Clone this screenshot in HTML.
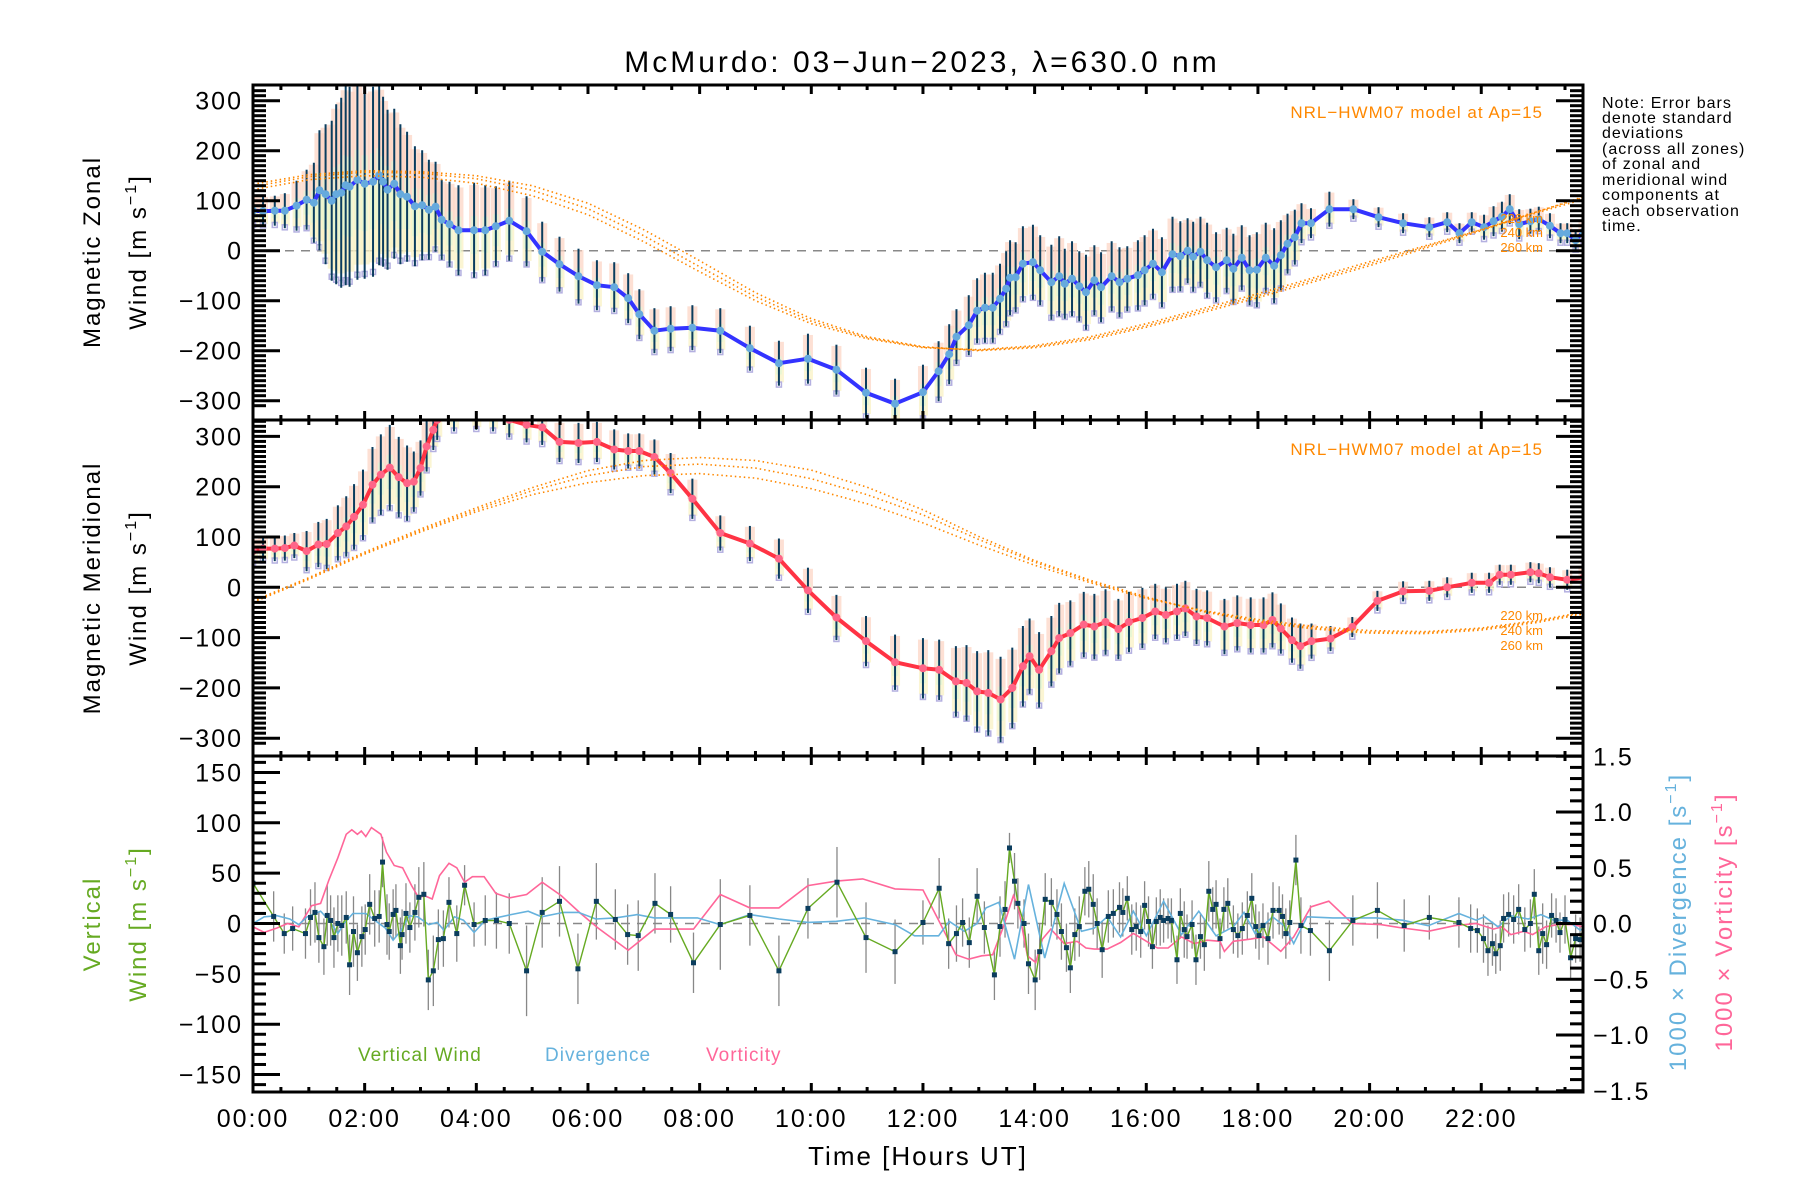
<!DOCTYPE html>
<html><head><meta charset="utf-8"><title>McMurdo winds</title>
<style>
html,body{margin:0;padding:0;background:#fff;}
svg{display:block;font-family:"Liberation Sans",sans-serif;}
.tk{font-size:25px;letter-spacing:2px;fill:#000;}
</style></head>
<body>
<svg id="chart" width="1800" height="1200" viewBox="0 0 1800 1200" xmlns="http://www.w3.org/2000/svg">
<defs>
<clipPath id="c1"><rect x="254" y="86" width="1328" height="333"/></clipPath>
<clipPath id="c2"><rect x="254" y="421" width="1328" height="334"/></clipPath>
<clipPath id="c3"><rect x="254" y="757" width="1328" height="334"/></clipPath>
</defs>
<rect x="0" y="0" width="1800" height="1200" fill="#fff"/>
<text x="922" y="72" text-anchor="middle" font-size="30" letter-spacing="3">McMurdo: 03−Jun−2023, λ=630.0 nm</text>
<g id="p1" clip-path="url(#c1)"></g>
<g id="p2" clip-path="url(#c2)"></g>
<g id="p3" clip-path="url(#c3)"></g>
<g id="axes"></g>

<text transform="translate(100,252) rotate(-90)" text-anchor="middle" font-size="24" letter-spacing="2">Magnetic Zonal</text>
<text transform="translate(146,252) rotate(-90)" text-anchor="middle" font-size="24" letter-spacing="2">Wind [m s<tspan font-size="16" dy="-10">−1</tspan><tspan dy="10">]</tspan></text>
<text transform="translate(100,588) rotate(-90)" text-anchor="middle" font-size="24" letter-spacing="2">Magnetic Meridional</text>
<text transform="translate(146,588) rotate(-90)" text-anchor="middle" font-size="24" letter-spacing="2">Wind [m s<tspan font-size="16" dy="-10">−1</tspan><tspan dy="10">]</tspan></text>
<text transform="translate(100,924) rotate(-90)" text-anchor="middle" font-size="24" letter-spacing="2" fill="#66aa22">Vertical</text>
<text transform="translate(146,924) rotate(-90)" text-anchor="middle" font-size="24" letter-spacing="2" fill="#66aa22">Wind [m s<tspan font-size="16" dy="-10">−1</tspan><tspan dy="10">]</tspan></text>
<text transform="translate(1686,922) rotate(-90)" text-anchor="middle" font-size="24" letter-spacing="2" fill="#66b2dd">1000 × Divergence [s<tspan font-size="16" dy="-10">−1</tspan><tspan dy="10">]</tspan></text>
<text transform="translate(1732,922) rotate(-90)" text-anchor="middle" font-size="24" letter-spacing="2" fill="#ff6699">1000 × Vorticity [s<tspan font-size="16" dy="-10">−1</tspan><tspan dy="10">]</tspan></text>
<text x="918" y="1165" text-anchor="middle" font-size="26" letter-spacing="2">Time [Hours UT]</text>

<g font-size="16" letter-spacing="1">
<text x="1602" y="108">Note: Error bars</text>
<text x="1602" y="123">denote standard</text>
<text x="1602" y="138">deviations</text>
<text x="1602" y="154">(across all zones)</text>
<text x="1602" y="169">of zonal and</text>
<text x="1602" y="185">meridional wind</text>
<text x="1602" y="200">components at</text>
<text x="1602" y="216">each observation</text>
<text x="1602" y="231">time.</text>
</g>
<text x="1543" y="118" text-anchor="end" font-size="17" fill="#ff8800" letter-spacing="1">NRL−HWM07 model at Ap=15</text>
<text x="1543" y="455" text-anchor="end" font-size="17" fill="#ff8800" letter-spacing="1">NRL−HWM07 model at Ap=15</text>
<g font-size="13" fill="#ff8800" text-anchor="end">
<text x="1543" y="223">220 km</text><text x="1543" y="237">240 km</text><text x="1543" y="252">260 km</text>
</g>
<g font-size="13" fill="#ff8800" text-anchor="end">
<text x="1543" y="620">220 km</text><text x="1543" y="635">240 km</text><text x="1543" y="650">260 km</text>
</g>
<text x="358" y="1061" font-size="19" fill="#66aa22" letter-spacing="1">Vertical Wind</text>
<text x="545" y="1061" font-size="19" fill="#66b2dd" letter-spacing="1">Divergence</text>
<text x="706" y="1061" font-size="19" fill="#ff6699" letter-spacing="1">Vorticity</text>
</svg>

<script>
// ---------- DATA ----------
var zonalT = [0,.18,.39,.57,.78,.96,1.09,1.19,1.3,1.41,1.49,1.58,1.66,1.73,1.87,2.0,2.15,2.26,2.33,2.41,2.53,2.64,2.76,2.9,3.03,3.15,3.27,3.38,3.52,3.68,3.96,4.16,4.35,4.59,4.9,5.18,5.49,5.83,6.16,6.47,6.72,6.92,7.19,7.48,7.87,8.37,8.9,9.42,9.94,10.45,10.98,11.5,12.0,12.28,12.47,12.6,12.82,12.97,13.11,13.25,13.38,13.49,13.56,13.66,13.79,13.97,14.1,14.3,14.44,14.54,14.67,14.8,14.92,15.07,15.19,15.38,15.52,15.66,15.85,15.97,16.12,16.28,16.47,16.61,16.74,16.84,16.97,17.09,17.25,17.44,17.56,17.71,17.85,17.98,18.14,18.29,18.41,18.53,18.66,18.78,18.95,19.28,19.71,20.16,20.6,21.07,21.39,21.61,21.83,22.05,22.22,22.37,22.51,22.68,22.88,23.03,23.23,23.42,23.54,23.69,23.83];
var zonalV = [80,79,80,80,90,102,96,121,113,100,113,116,131,128,142,134,138,151,138,122,134,113,108,89,91,82,88,62,53,41,41,41,49,60,39,-2,-27,-51,-69,-73,-95,-127,-160,-156,-154,-160,-195,-225,-216,-238,-284,-306,-283,-241,-207,-172,-149,-120,-114,-114,-96,-76,-54,-53,-26,-23,-39,-63,-51,-66,-56,-71,-83,-59,-73,-51,-63,-56,-49,-39,-26,-43,-7,-11,0,-12,-2,-19,-33,-19,-36,-14,-39,-38,-14,-30,-9,14,27,55,55,83,83,67,55,47,57,35,57,47,59,68,83,53,59,63,50,35,35,21,38];
var zonalSd = [30,30,30,35,50,60,80,120,140,160,180,190,200,200,200,190,190,180,170,160,150,140,130,120,110,100,90,80,85,90,95,90,80,80,70,60,55,55,50,50,50,50,45,45,45,45,45,45,50,50,50,50,55,60,60,55,60,65,70,70,70,75,75,70,75,75,70,75,80,70,75,70,75,70,70,70,70,65,70,70,70,70,75,70,65,70,70,75,70,65,70,65,70,75,70,75,70,60,55,40,30,35,20,20,20,20,20,20,20,25,30,30,30,30,25,25,25,20,20,20,20];

var merT = [0,.18,.39,.57,.74,.96,1.17,1.32,1.52,1.67,1.81,1.97,2.14,2.29,2.45,2.61,2.76,2.88,3.0,3.11,3.23,3.3,3.6,4.0,4.3,4.59,4.9,5.18,5.49,5.83,6.16,6.47,6.72,6.92,7.19,7.48,7.87,8.37,8.9,9.42,9.94,10.45,10.98,11.5,12.0,12.29,12.59,12.78,12.97,13.17,13.39,13.6,13.79,13.91,14.08,14.3,14.44,14.64,14.88,15.07,15.27,15.5,15.69,15.93,16.16,16.35,16.55,16.7,16.9,17.09,17.4,17.63,17.87,18.1,18.26,18.41,18.61,18.76,18.96,19.3,19.69,20.14,20.6,21.07,21.39,21.83,22.14,22.33,22.53,22.88,23.03,23.23,23.54,23.83];
var merV = [72,77,77,78,83,72,85,86,108,121,140,164,204,224,238,219,207,210,237,280,313,333,345,348,345,333,323,318,289,287,289,274,271,271,259,227,176,108,87,57,-6,-60,-107,-149,-161,-164,-187,-190,-207,-210,-223,-200,-157,-137,-164,-127,-101,-91,-74,-78,-69,-83,-69,-61,-48,-55,-48,-42,-58,-61,-78,-71,-75,-75,-65,-82,-105,-117,-107,-102,-79,-27,-8,-7,0,9,9,25,25,30,28,20,15,19];
var merSd = [25,25,25,25,25,40,45,50,55,60,65,70,75,80,85,80,75,60,55,50,40,40,35,35,35,35,35,35,40,40,40,40,35,35,35,40,40,35,35,40,45,45,50,55,60,60,70,75,80,85,85,80,80,75,75,70,70,65,65,65,65,60,60,60,55,55,55,55,55,55,55,55,55,55,55,50,45,45,35,25,20,20,20,20,20,20,20,20,20,20,20,20,20,20];

var modelHours = [0,1,2,3,4,5,6,7,8,9,10,11,12,13,14,15,16,17,18,19,20,21,22,23,24];
var hwmZonal220 = [122,142,150,147,135,110,72,18,-42,-100,-146,-176,-194,-198,-190,-172,-146,-116,-86,-54,-22,10,42,76,108];
var hwmZonal240 = [128,148,157,155,144,121,84,30,-32,-92,-141,-174,-193,-199,-192,-175,-150,-120,-90,-58,-26,8,42,78,112];
var hwmZonal260 = [133,152,160,158,150,130,95,42,-20,-84,-136,-172,-192,-200,-194,-178,-153,-124,-94,-62,-30,5,40,78,114];
var hwmMer220 = [-30,16,66,110,150,184,208,222,226,217,196,166,128,84,44,9,-22,-46,-64,-78,-86,-88,-81,-66,-46];
var hwmMer240 = [-28,18,68,113,154,192,222,240,245,237,216,184,144,95,50,12,-20,-47,-67,-81,-89,-90,-83,-68,-48];
var hwmMer260 = [-27,19,70,116,158,198,232,252,258,252,233,199,154,101,53,14,-19,-48,-69,-83,-91,-92,-85,-70,-50];

var vertT = [0,.37,.56,.71,.94,1.03,1.11,1.18,1.27,1.33,1.39,1.45,1.52,1.59,1.67,1.73,1.80,1.87,1.95,2.01,2.09,2.18,2.26,2.32,2.40,2.44,2.51,2.56,2.64,2.67,2.74,2.81,2.90,2.97,3.06,3.14,3.23,3.32,3.41,3.51,3.65,3.79,3.96,4.16,4.36,4.59,4.90,5.18,5.49,5.82,6.15,6.49,6.71,6.90,7.20,7.48,7.89,8.37,8.90,9.42,9.94,10.46,10.98,11.50,12.0,12.29,12.46,12.6,12.71,12.83,12.97,13.1,13.28,13.38,13.47,13.55,13.64,13.7,13.81,13.89,14.01,14.09,14.19,14.3,14.4,14.48,14.57,14.64,14.72,14.8,14.9,14.97,15.05,15.12,15.21,15.32,15.41,15.52,15.58,15.66,15.74,15.82,15.9,15.97,16.04,16.11,16.18,16.25,16.31,16.39,16.45,16.55,16.61,16.68,16.73,16.82,16.89,16.97,17.04,17.12,17.19,17.25,17.32,17.39,17.46,17.56,17.64,17.72,17.81,17.89,17.96,18.02,18.09,18.18,18.27,18.38,18.44,18.5,18.57,18.68,18.77,18.94,19.28,19.7,20.14,20.62,21.07,21.6,21.81,21.93,22.04,22.12,22.2,22.26,22.34,22.4,22.49,22.58,22.67,22.78,22.88,22.95,23.03,23.1,23.17,23.26,23.34,23.41,23.5,23.6,23.69,23.77,23.85];
var vertV = [40,7,-10,-5,-10,6,11,-14,-23,8,3,-14,0,-2,6,-41,-8,-29,-13,-6,19,5,7,61,-1,-8,9,13,-22,-11,10,-4,11,26,29,-56,-47,-16,-15,21,-10,38,-1,3,3,0,-47,11,22,-45,22,4,-11,-12,20,9,-39,-1,8,-47,15,41,-14,-28,1,35,-20,-10,1,-19,27,-4,-51,-3,14,75,42,20,0,-40,-56,-28,24,21,9,-8,-24,-44,-11,-3,32,34,19,0,-26,7,10,16,11,25,-6,-3,-8,18,2,-23,2,6,3,5,3,-36,10,-6,-13,-1,-36,-13,-21,32,14,19,-15,14,20,-6,-12,-5,8,25,-3,-12,-2,-15,13,13,7,-10,1,63,-2,-7,-27,3,13,-2,6,1,-5,-7,-15,-27,-20,-30,-22,5,9,4,14,-6,0,29,-27,-10,-21,8,3,-9,4,-34,-15,-16,0];
var vertSd = [30,25,20,22,25,28,30,25,28,30,25,30,28,30,26,30,35,28,30,25,30,28,26,25,30,28,25,26,28,25,30,25,28,30,32,30,35,30,28,25,28,20,22,25,28,30,45,35,35,35,38,30,30,35,30,28,30,45,30,35,30,35,35,32,22,30,25,28,24,25,28,26,25,30,28,15,28,25,24,30,30,28,26,24,25,28,24,25,26,30,24,28,30,25,28,26,24,25,24,22,25,24,26,24,25,22,24,28,22,20,22,24,25,28,22,24,25,22,26,30,22,24,20,22,25,24,22,26,24,25,22,24,22,26,28,24,22,25,22,25,28,25,30,25,28,26,22,25,24,22,24,25,22,20,25,24,22,24,25,22,24,25,24,30,24,22,22,20,24,22,24,22,22,20,20];

var vortT = [0,.2,.43,.62,.82,1.05,1.21,1.36,1.52,1.67,1.77,1.87,1.94,2.02,2.12,2.29,2.39,2.53,2.68,2.84,2.97,3.07,3.21,3.34,3.51,3.65,3.79,3.93,4.14,4.35,4.59,4.9,5.18,5.52,5.87,6.18,6.72,7.19,7.89,8.37,8.9,9.42,9.94,10.45,10.92,11.5,12.0,12.28,12.59,12.82,13.05,13.25,13.44,13.62,13.71,13.87,14.02,14.14,14.29,14.53,14.76,14.92,15.07,15.3,15.54,15.77,15.97,16.2,16.39,16.63,16.86,17.09,17.32,17.4,17.56,17.87,18.1,18.41,18.64,18.95,19.27,19.69,20.2,20.59,21.05,21.52,21.91,22.22,22.37,22.53,22.76,22.92,23.15,23.38,23.61,23.85];
var vortV = [-.03,-.08,-.04,0,-.03,.16,.18,.39,.59,.80,.84,.80,.83,.78,.86,.80,.64,.52,.50,.34,.23,.25,.22,.43,.54,.50,.37,.42,.42,.27,.23,.26,.37,.25,.09,-.04,-.24,-.05,-.05,.26,.14,.14,.34,.38,.40,.31,.30,.03,-.28,-.32,-.29,-.28,-.03,.25,.14,-.29,-.35,-.14,-.05,-.18,-.16,-.22,-.23,-.23,-.17,-.09,-.15,-.22,-.22,-.12,-.18,-.15,-.16,-.25,-.16,-.14,-.12,-.25,-.12,.15,.20,0,-.01,-.04,-.07,-.02,0,-.05,-.03,-.10,-.07,-.10,-.03,-.01,-.01,-.03];
var divT = [0,.2,.43,.66,.82,.97,1.21,1.36,1.52,1.63,1.79,2.02,2.18,2.37,2.51,2.64,2.8,2.95,3.15,3.3,3.42,3.61,3.77,3.96,4.16,4.62,4.93,5.17,5.56,5.83,6.14,6.49,6.88,7.19,7.96,8.37,8.9,9.42,9.94,10.45,10.95,11.5,11.85,12.0,12.28,12.47,12.74,12.97,13.13,13.36,13.64,13.89,14.18,14.53,14.84,15.07,15.3,15.54,15.77,16.0,16.31,16.63,16.94,17.25,17.56,17.75,17.95,18.26,18.49,18.64,18.88,19.34,20.12,20.59,21.05,21.6,21.91,22.06,22.3,22.53,22.84,23.07,23.3,23.54,23.77,23.89];
var divV = [0,.06,.07,.04,-.01,.06,.11,.03,-.09,0,.09,.09,.03,-.04,-.15,-.07,.07,.06,-.01,.01,-.06,.06,.03,-.08,.03,.08,.11,.06,.10,.10,.04,.05,.08,.05,.05,-.01,.08,.04,.01,.02,.05,-.01,-.11,-.11,-.11,.02,-.07,0,.14,.19,-.32,.35,-.31,.36,-.07,-.04,.06,-.12,.11,-.11,.20,-.10,.11,-.11,-.03,.10,-.09,.06,-.03,-.18,.06,.05,.05,.03,-.02,.09,.03,.06,-.03,.07,.04,.08,.03,.03,-.06,-.03];

var yTicks12 = [-300,-200,-100,0,100,200,300];
var yTicks3 = [-150,-100,-50,0,50,100,150];
var yTicksR = [-1.5,-1.0,-0.5,0.0,0.5,1.0,1.5];
var xTickLabels = ["00:00","02:00","04:00","06:00","08:00","10:00","12:00","14:00","16:00","18:00","20:00","22:00"];

// ---------- SCALES ----------
var X0 = 253, PXH = 55.83, XR = 1583;
function xs(h){ return X0 + h*PXH; }
function y1(v){ return 250.7 - v*0.5; }
function y2(v){ return 587.3 - v*0.503; }
function y3(v){ return 923.5 - v*1.007; }
function y3r(v){ return 923.5 - v*111.5; }
var NS = "http://www.w3.org/2000/svg";
function mk(tag, attrs, parent){
  var e = document.createElementNS(NS, tag);
  for (var k in attrs) e.setAttribute(k, attrs[k]);
  parent.appendChild(e); return e;
}
function pathFrom(ts, vs, ys){
  var d = "";
  for (var i=0;i<ts.length;i++){ d += (i?"L":"M") + xs(ts[i]).toFixed(1) + "," + ys(vs[i]).toFixed(1); }
  return d;
}

function windPanel(g, ts, vs, sds, ys, lineColor, dotColor, namePrefix){
  for (var i=0;i<ts.length;i++){
    var x = xs(ts[i]), v = vs[i], s = sds[i];
    var c1 = mk("rect", {x:x-5, y:ys(v+s*0.95), width:10, height:Math.abs(ys(v)-ys(v+s*0.95)), fill:"#fcd3c2", opacity:0.7}, g);
    
    
    var c2 = mk("rect", {x:x-4, y:ys(v), width:9, height:Math.abs(ys(v-s*0.85)-ys(v)), fill:"#faf1c4", opacity:0.75}, g);
    
    
    var c3 = mk("rect", {x:x-3, y:ys(v+s*0.3), width:6, height:Math.abs(ys(v-s*0.5)-ys(v+s*0.3)), fill:"#dcf6d6", opacity:0.6}, g);
    
    
    var sq = mk("rect", {x:x-2.5, y:ys(v-s*0.95)-2.5, width:5, height:5, fill:"none", stroke:"#b4b0e0", "stroke-width":1.5}, g);
    
    
  }
  for (var j=0;j<ts.length;j++){
    var xb = xs(ts[j]);
    var eb = mk("line", {x1:xb, x2:xb, y1:ys(vs[j]+sds[j]), y2:ys(vs[j]-sds[j]), stroke:"#0b3d5e", "stroke-width":2}, g);
    
    
  }
  var ln = mk("path", {d:pathFrom(ts, vs, ys), fill:"none", stroke:lineColor, "stroke-width":4, "stroke-linejoin":"round"}, g);
  
  
  for (var k=0;k<ts.length;k++){
    var pt = mk("circle", {cx:xs(ts[k]), cy:ys(vs[k]), r:4, fill:dotColor}, g);
    
    
  }
}
function modelCurves(g, ys, arrs, namePrefix){
  for (var a=0;a<arrs.length;a++){
    var m = mk("path", {d:pathFrom(modelHours, arrs[a], ys), fill:"none", stroke:"#ff8800", "stroke-width":1.6, "stroke-dasharray":"1.5 3"}, g);
    
    
  }
}
function zeroLine(g, y, name){
  var z = mk("line", {x1:X0, x2:XR, y1:y, y2:y, stroke:"#888", "stroke-width":1.5, "stroke-dasharray":"9 7"}, g);
  
  
}

var p1 = document.getElementById("p1"), p2 = document.getElementById("p2"), p3 = document.getElementById("p3");
zeroLine(p1, y1(0), 'zonal-zero-line');
windPanel(p1, zonalT, zonalV, zonalSd, y1, "#3333ff", "#66aadd", "zonal");
modelCurves(p1, y1, [hwmZonal220, hwmZonal240, hwmZonal260], "zonal");
zeroLine(p2, y2(0), 'meridional-zero-line');
windPanel(p2, merT, merV, merSd, y2, "#ff3344", "#ff6688", "meridional");
modelCurves(p2, y2, [hwmMer220, hwmMer240, hwmMer260], "meridional");

zeroLine(p3, y3(0), 'vertical-zero-line');
for (var i=0;i<vertT.length;i++){
  var eb = mk("line", {x1:xs(vertT[i]), x2:xs(vertT[i]), y1:y3(vertV[i]+vertSd[i]), y2:y3(vertV[i]-vertSd[i]), stroke:"#888", "stroke-width":1.3}, p3);
  
  
}
var vortLine = mk("path", {d:pathFrom(vortT, vortV, y3r), fill:"none", stroke:"#ff6699", "stroke-width":1.6}, p3);


var divLine = mk("path", {d:pathFrom(divT, divV, y3r), fill:"none", stroke:"#66b2dd", "stroke-width":1.6}, p3);


var vLine = mk("path", {d:pathFrom(vertT, vertV, y3), fill:"none", stroke:"#66aa22", "stroke-width":1.4}, p3);


for (var j=0;j<vertT.length;j++){
  var pt = mk("rect", {x:xs(vertT[j])-2.5, y:y3(vertV[j])-2.5, width:5, height:5, fill:"#0b3d5e"}, p3);
  
  
}

// ---------- AXES ----------
var ax = document.getElementById("axes");
var panels = [{top:85,bot:420,ys:y1,ticks:yTicks12,minor:10,name:"zonal"},
              {top:420,bot:756,ys:y2,ticks:yTicks12,minor:10,name:"meridional"},
              {top:756,bot:1092,ys:y3,ticks:yTicks3,minor:10,name:"vertical"}];
panels.forEach(function(p){
  var fr = mk("rect", {x:X0, y:p.top, width:XR-X0, height:p.bot-p.top, fill:"none", stroke:"#000", "stroke-width":3}, ax);
  
  
  var lo = p.ticks[0]-10, hi = p.ticks[p.ticks.length-1]+40;
  for (var v=lo; v<=hi; v+=p.minor){
    var y = p.ys(v);
    if (y < p.top+1 || y > p.bot-1) continue;
    var major = (v % 50 === 0) && p.ticks.indexOf(v) >= 0;
    var len = major ? 27 : 13;
    var tl = mk("line", {x1:X0, x2:X0+len, y1:y, y2:y, stroke:"#000", "stroke-width":3}, ax);
    
    
    if (p.name !== "vertical"){
      var tr = mk("line", {x1:XR-len, x2:XR, y1:y, y2:y, stroke:"#000", "stroke-width":3}, ax);
      
      
    }
  }
  p.ticks.forEach(function(t){
    var lb = mk("text", {x:243, y:p.ys(t)+9, "text-anchor":"end", "class":"tk"}, ax);
    lb.textContent = (t<0 ? "−" + (-t) : String(t));
    
    
  });
  for (var h=0; h<=23.84; h+=0.5){
    var x = xs(h), maj = (Math.round(h*2) % 4 === 0);
    var L = maj ? 9 : 5;
    var a = mk("line", {x1:x, x2:x, y1:p.bot, y2:p.bot-L, stroke:"#000", "stroke-width":3}, ax);
    
    
    var b = mk("line", {x1:x, x2:x, y1:p.top, y2:p.top+L, stroke:"#000", "stroke-width":3}, ax);
    
    
  }
});
for (var r=-1.5; r<=1.51; r+=0.1){
  var yr = y3r(r);
  var isMaj = Math.abs(Math.round(r*2) - r*2) < 0.01;
  var rl = mk("line", {x1:XR-(isMaj?27:13), x2:XR, y1:yr, y2:yr, stroke:"#000", "stroke-width":3}, ax);
  
  
}
yTicksR.forEach(function(t){
  var lb = mk("text", {x:1593, y:y3r(t)+9, "class":"tk"}, ax);
  lb.textContent = (t<0 ? "−" + (-t).toFixed(1) : t.toFixed(1));
  
  
});
xTickLabels.forEach(function(s, i){
  var lb = mk("text", {x:xs(i*2), y:1127, "text-anchor":"middle", "class":"tk"}, ax);
  lb.textContent = s;
  
  
});
</script>
</body></html>
